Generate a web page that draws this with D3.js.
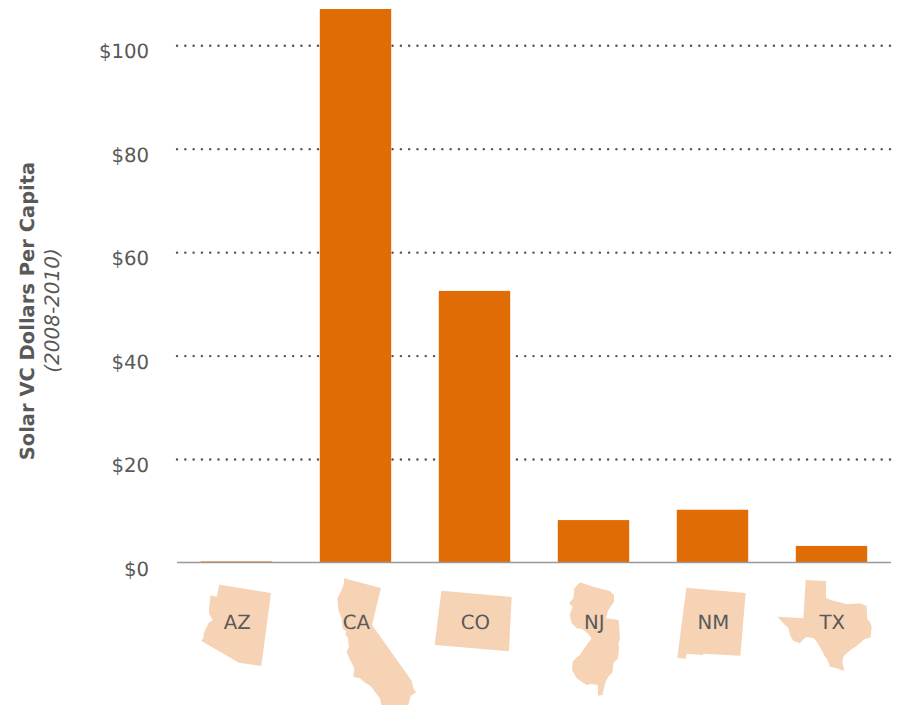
<!DOCTYPE html>
<html>
<head>
<meta charset="utf-8">
<script src="https://cdn.jsdelivr.net/npm/d3@7"></script>
<style>
  html, body { margin: 0; padding: 0; background: #fff; }
  svg { display: block; font-family: "DejaVu Sans", sans-serif; text-rendering: geometricPrecision; }
  .domain { display: none; }
</style>
</head>
<body>
<div id="chart"></div>
<script>
const states = ["AZ", "CA", "CO", "NJ", "NM", "TX"];
const dollars = [0.2, 107, 52.5, 8.2, 10.2, 3.2];
const yTicks = [0, 20, 40, 60, 80, 100];

// state silhouettes, traced at 3x, cx is the middle of the bar in that trace
const outlines = {
  AZ: { cx: 199.5, pts: [[148,74],[303,99],[274,318],[207,308],[93,242],[100,235],[102,218],[115,190],[128,180],[117,160],[117,145],[122,105],[130,108],[140,110]] },
  CA: { cx: 556.5, pts: [[522,55],[633,84],[606,195],[725,362],[730,385],[738,397],[722,408],[715,435],[634,435],[630,415],[612,392],[602,378],[585,368],[570,355],[550,350],[553,325],[540,300],[530,275],[537,260],[533,232],[525,222],[530,215],[518,205],[515,175],[505,150],[502,115],[515,90],[522,70]] },
  CO: { cx: 163.5, pts: [[64,92],[275,111],[267,274],[44,255]] },
  NJ: { cx: 520.5, pts: [[480,67],[520,80],[570,93],[582,105],[582,125],[575,135],[565,150],[558,175],[596,180],[598,205],[600,237],[595,250],[597,265],[594,295],[580,310],[578,335],[565,350],[557,365],[552,385],[548,405],[534,407],[533,375],[515,372],[500,375],[485,365],[470,355],[456,330],[458,305],[470,292],[480,285],[495,262],[515,235],[505,222],[487,207],[470,205],[455,190],[449,165],[458,140],[447,130],[460,115],[463,85]] },
  NM: { cx: 157.5, pts: [[79,83],[257,99],[241,287],[129,281],[129,285],[80,281],[77,297],[52,293]] },
  TX: { cx: 514.5, pts: [[437,60],[498,63],[498,113],[507,118],[520,122],[540,127],[560,133],[580,131],[600,130],[620,138],[622,178],[630,187],[635,200],[632,232],[612,238],[605,245],[590,258],[575,268],[562,278],[550,290],[547,305],[553,333],[530,325],[510,320],[503,300],[495,290],[482,265],[470,245],[462,235],[440,231],[430,238],[420,250],[400,242],[392,230],[385,205],[370,190],[352,170],[430,175]] }
};

const width = 900,
    height = 705,
    margin = ({ top: 9, right: 9, bottom: 142.5, left: 177 }),
    labelY = 622; // middle of the state abbreviations

const svg = d3.select("#chart")
    .append("svg")
    .attr("width", width)
    .attr("height", height)
    .attr("viewBox", [0, 0, width, height]);

const x = d3.scaleBand()
    .domain(states)
    .range([margin.left, width - margin.right])
    .paddingInner(0.4)
    .paddingOuter(0.2);

const y = d3.scaleLinear()
    .domain([0, 107])
    .range([height - margin.bottom, margin.top]);

// y axis, tick lines become the dotted grid
const yAxis = svg.append("g")
    .attr("transform", `translate(${margin.left},0)`)
    .call(d3.axisLeft(y)
      .tickValues(yTicks)
      .tickFormat(d => "$" + d)
      .tickSize(0));

yAxis.selectAll("text")
    .attr("x", -28)
    .attr("y", 12.7)
    .attr("dy", 0)
    .attr("fill", "#595959")
    .attr("font-size", 19.7)
    .attr("font-family", "DejaVu Sans");

yAxis.selectAll(".tick").filter(d => d > 0)
  .append("line")
    .attr("x1", 0)
    .attr("x2", width - margin.right - margin.left)
    .attr("stroke", "#555")
    .attr("stroke-width", 2.4)
    .attr("stroke-linecap", "round")
    .attr("stroke-dasharray", "0.1 8.19");

// state shapes under the baseline
const outline = d3.line().curve(d3.curveLinearClosed);

const shapes = svg.append("g")
  .selectAll("g")
  .data(states)
  .join("g")
    .attr("transform", d => `translate(${x(d) + x.bandwidth() / 2},${labelY})`);

shapes.append("path")
    .attr("transform", d => `scale(${1 / 3}) translate(${-outlines[d].cx},-186)`)
    .attr("d", d => outline(outlines[d].pts))
    .attr("fill", "#f7d3b5");

shapes.append("text")
    .text(d => d)
    .attr("text-anchor", "middle")
    .attr("dx", 0.8)
    .attr("dy", "0.36em")
    .attr("fill", "#595959")
    .attr("font-size", 19.7);

// bars
svg.append("g")
  .selectAll("rect")
  .data(states)
  .join("rect")
    .attr("x", d => x(d))
    .attr("width", x.bandwidth())
    .attr("y", (d, i) => y(dollars[i]))
    .attr("height", (d, i) => y(0) - y(dollars[i]))
    .attr("fill", "#e06c06");

// baseline
svg.append("line")
    .attr("x1", margin.left)
    .attr("x2", width - margin.right)
    .attr("y1", y(0))
    .attr("y2", y(0))
    .attr("stroke", "#999")
    .attr("stroke-width", 1.5);

// y axis titles
svg.append("text")
    .attr("transform", "translate(34,311) rotate(-90)")
    .attr("text-anchor", "middle")
    .attr("font-size", 19.5)
    .attr("font-weight", "bold")
    .attr("fill", "#595959")
    .text("Solar VC Dollars Per Capita");

svg.append("text")
    .attr("transform", "translate(59,310.5) rotate(-90)")
    .attr("text-anchor", "middle")
    .attr("font-size", 20)
    .attr("font-style", "italic")
    .attr("fill", "#595959")
    .text("(2008-2010)");
</script>
</body>
</html>
